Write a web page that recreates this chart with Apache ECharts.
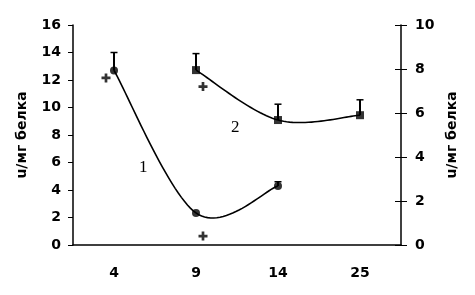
<!DOCTYPE html>
<html>
<head>
<meta charset="utf-8">
<script src="https://cdn.jsdelivr.net/npm/echarts@6/dist/echarts.min.js"></script>
<style>html,body{margin:0;padding:0;background:#fff}#c{width:475px;height:295px}</style>
</head>
<body>
<div id="c"></div>
<script>
var categories = ['4', '9', '14', '25'];
var leftTicks = [0, 16, 2];   // min, max, interval
var rightTicks = [0, 10, 2];
var series1 = [12.7, 2.33, 4.3, null];        // curve 1, left axis
var series1Err = [14.0, null, 4.6, null];
var series1Plus = [12.15, 0.65, null, null];
var series2 = [null, 7.95, 5.68, 5.9];         // curve 2, right axis
var series2Err = [null, 8.7, 6.4, 6.6];
var series2Plus = [null, 7.2, null, null];
var axisName = 'u/мг белка';

var font = '"DejaVu Sans", sans-serif';
function pairs(vals) {
  var out = [];
  for (var i = 0; i < vals.length; i++) if (vals[i] != null) out.push([i, vals[i]]);
  return out;
}
function errData(vals, errs) {
  var out = [];
  for (var i = 0; i < vals.length; i++) {
    if (vals[i] != null && errs[i] != null) out.push([i, vals[i], errs[i]]);
  }
  return out;
}
function plusData(vals, offs) {
  var out = [];
  for (var i = 0; i < vals.length; i++) {
    if (vals[i] != null) out.push({ value: [i, vals[i]], symbolOffset: [offs[i], 0] });
  }
  return out;
}
function errRender(params, api) {
  var p1 = api.coord([api.value(0), api.value(1)]);
  var p2 = api.coord([api.value(0), api.value(2)]);
  return { type: 'group', children: [
    { type: 'line', shape: { x1: p1[0], y1: p1[1], x2: p2[0], y2: p2[1] }, style: { stroke: '#000', lineWidth: 2 } },
    { type: 'line', shape: { x1: p2[0] - 3.5, y1: p2[1], x2: p2[0] + 3.5, y2: p2[1] }, style: { stroke: '#000', lineWidth: 1.5 } }
  ]};
}
// Catmull-Rom style smoothed curve through the data points (like spreadsheet "smoothed line")
function curveRender(vals) {
  return function (params, api) {
    if (params.dataIndex !== 0) return null;
    var pts = pairs(vals).map(function (d) { return api.coord(d); });
    var poly = [];
    for (var i = 0; i < pts.length - 1; i++) {
      var p0 = pts[Math.max(i - 1, 0)], p1 = pts[i], p2 = pts[i + 1], p3 = pts[Math.min(i + 2, pts.length - 1)];
      var c1 = [p1[0] + (p2[0] - p0[0]) / 6, p1[1] + (p2[1] - p0[1]) / 6];
      var c2 = [p2[0] - (p3[0] - p1[0]) / 6, p2[1] - (p3[1] - p1[1]) / 6];
      for (var k = 0; k <= 30; k++) {
        if (i > 0 && k === 0) continue;
        var t = k / 30, u = 1 - t;
        poly.push([
          u*u*u*p1[0] + 3*u*u*t*c1[0] + 3*u*t*t*c2[0] + t*t*t*p2[0],
          u*u*u*p1[1] + 3*u*u*t*c1[1] + 3*u*t*t*c2[1] + t*t*t*p2[1]
        ]);
      }
    }
    return { type: 'polyline', shape: { points: poly }, style: { stroke: '#000', lineWidth: 1.6, fill: null } };
  };
}
var plusPath = 'path://M3.5,0h3v3.5h3.5v3h-3.5v3.5h-3v-3.5h-3.5v-3h3.5z';
var axisLineStyle = { color: '#000', width: 1.5 };
var labelStyle = { color: '#000', fontWeight: 'bold', fontSize: 14, fontFamily: font };
var chart = echarts.init(document.getElementById('c'));
chart.setOption({
  animation: false,
  backgroundColor: '#fff',
  grid: { left: 73, right: 74, top: 25, bottom: 50 },
  xAxis: {
    type: 'category', data: categories, boundaryGap: true,
    axisLine: { lineStyle: axisLineStyle },
    axisTick: { length: 5, lineStyle: { color: '#000' } },
    axisLabel: Object.assign({ margin: 21 }, labelStyle)
  },
  yAxis: [
    {
      type: 'value', position: 'left', min: leftTicks[0], max: leftTicks[1], interval: leftTicks[2],
      name: axisName, nameLocation: 'middle', nameGap: 44, nameRotate: 90,
      nameTextStyle: labelStyle,
      axisLine: { show: true, lineStyle: axisLineStyle },
      axisTick: { show: true, length: 5, lineStyle: { color: '#000' } },
      splitLine: { show: false },
      axisLabel: Object.assign({ margin: 12 }, labelStyle)
    },
    {
      type: 'value', position: 'right', min: rightTicks[0], max: rightTicks[1], interval: rightTicks[2],
      name: axisName, nameLocation: 'middle', nameGap: 44, nameRotate: 90,
      nameTextStyle: labelStyle,
      axisLine: { show: true, lineStyle: axisLineStyle },
      axisTick: { show: true, length: 6, lineStyle: { color: '#000' } },
      splitLine: { show: false },
      axisLabel: Object.assign({ margin: 14 }, labelStyle)
    },
    {
      type: 'value', position: 'right', min: rightTicks[0], max: rightTicks[1], interval: rightTicks[2],
      axisLine: { show: false },
      axisTick: { show: true, inside: true, length: 6, lineStyle: { color: '#000' } },
      splitLine: { show: false },
      axisLabel: { show: false }
    }
  ],
  series: [
    { type: 'custom', yAxisIndex: 0, renderItem: curveRender(series1), data: pairs(series1), z: 2 },
    { type: 'custom', yAxisIndex: 1, renderItem: curveRender(series2), data: pairs(series2), z: 2 },
    {
      type: 'scatter', yAxisIndex: 0, data: pairs(series1),
      symbol: 'circle', symbolSize: 8, itemStyle: { color: '#000' }, z: 4
    },
    {
      type: 'scatter', yAxisIndex: 1, data: pairs(series2),
      symbol: 'rect', symbolSize: 8, itemStyle: { color: '#000' }, z: 4
    },
    { type: 'custom', yAxisIndex: 0, renderItem: errRender, data: errData(series1, series1Err), z: 3 },
    { type: 'custom', yAxisIndex: 1, renderItem: errRender, data: errData(series2, series2Err), z: 3 },
    {
      type: 'scatter', yAxisIndex: 0, symbol: plusPath, symbolSize: 9,
      itemStyle: { color: '#000' }, data: plusData(series1Plus, [-8, 7, 0, 0])
    },
    {
      type: 'scatter', yAxisIndex: 1, symbol: plusPath, symbolSize: 9,
      itemStyle: { color: '#000' }, data: plusData(series2Plus, [0, 7, 0, 0])
    }
  ],
  graphic: [
    { type: 'text', left: 139, top: 159, style: { text: '1', font: '17px "Liberation Serif", serif', fill: '#000' } },
    { type: 'text', left: 231, top: 119, style: { text: '2', font: '17px "Liberation Serif", serif', fill: '#000' } }
  ]
});
</script>
</body>
</html>
